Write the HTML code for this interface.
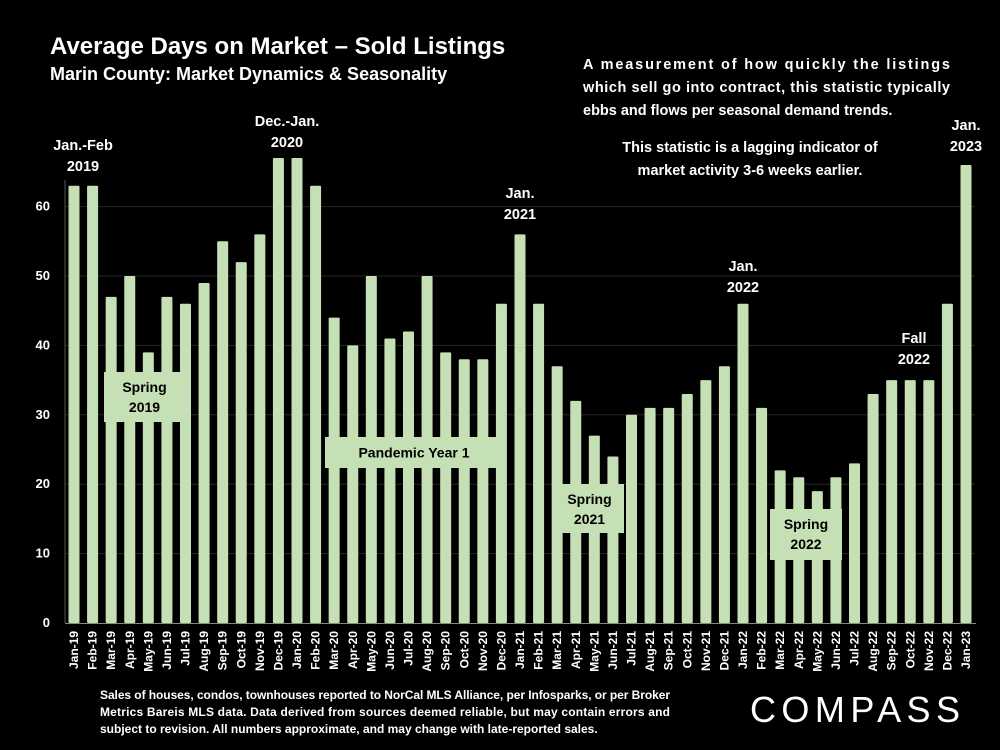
<!DOCTYPE html>
<html><head><meta charset="utf-8">
<style>
body{margin:0;background:#000;width:1000px;height:750px;overflow:hidden;font-family:"Liberation Sans",Arial,sans-serif;}
svg{position:absolute;left:0;top:0}
</style></head>
<body>
<svg id="chart" width="1000" height="750">
<text x="50" y="54" fill="#fff" font-size="24" font-weight="bold">Average Days on Market – Sold Listings</text>
<text x="50" y="80" fill="#fff" font-size="18" font-weight="bold">Marin County: Market Dynamics &amp; Seasonality</text>
<g fill="#fff" font-size="14.5" font-weight="bold">
<text x="583" y="69" textLength="367" lengthAdjust="spacing">A measurement of how quickly the listings</text>
<text x="583" y="92" textLength="367" lengthAdjust="spacing">which sell go into contract, this statistic typically</text>
<text x="583" y="115">ebbs and flows per seasonal demand trends.</text>
<text x="750" y="152" text-anchor="middle">This statistic is a lagging indicator of</text>
<text x="750" y="175" text-anchor="middle">market activity 3-6 weeks earlier.</text>
</g>
<g id="grid"></g><g id="bars"></g><g id="xlabels"></g><g id="ylabels"></g><g id="notes"></g>
<g fill="#fff" font-size="12" font-weight="bold">
<text x="100" y="699" textLength="570" lengthAdjust="spacing">Sales of houses, condos, townhouses reported to NorCal MLS Alliance, per Infosparks, or per Broker</text>
<text x="100" y="716" textLength="570" lengthAdjust="spacing">Metrics Bareis MLS data. Data derived from sources deemed reliable, but may contain errors and</text>
<text x="100" y="733">subject to revision. All numbers approximate, and may change with late-reported sales.</text>
</g>
<text x="750" y="722" fill="#fff" font-size="36" textLength="210" lengthAdjust="spacing">COMPASS</text>
</svg>
<script>
const categories=["Jan-19","Feb-19","Mar-19","Apr-19","May-19","Jun-19","Jul-19","Aug-19","Sep-19","Oct-19","Nov-19","Dec-19","Jan-20","Feb-20","Mar-20","Apr-20","May-20","Jun-20","Jul-20","Aug-20","Sep-20","Oct-20","Nov-20","Dec-20","Jan-21","Feb-21","Mar-21","Apr-21","May-21","Jun-21","Jul-21","Aug-21","Sep-21","Oct-21","Nov-21","Dec-21","Jan-22","Feb-22","Mar-22","Apr-22","May-22","Jun-22","Jul-22","Aug-22","Sep-22","Oct-22","Nov-22","Dec-22","Jan-23"];
const values=[63,63,47,50,39,47,46,49,55,52,56,67,67,63,44,40,50,41,42,50,39,38,38,46,56,46,37,32,27,24,30,31,31,33,35,37,46,31,22,21,19,21,23,33,35,35,35,46,66];
const yTicks=[0,10,20,30,40,50,60];
const NS="http://www.w3.org/2000/svg";
const x0=74, step=(966-74)/48, bw=11;
function xPos(i){return x0+i*step;}
function yPos(v){return 623-v*6.94;}
function mk(tag,attrs,parent){const e=document.createElementNS(NS,tag);for(const k in attrs)e.setAttribute(k,attrs[k]);document.getElementById(parent).appendChild(e);return e;}
yTicks.forEach(t=>{
  if(t>0){const g=mk('line',{x1:65,x2:975,y1:yPos(t),y2:yPos(t),stroke:'#262626','stroke-width':1},'grid');
  
  }
  const l=mk('text',{x:50,y:yPos(t)+4,fill:'#fff','font-size':13,'font-weight':'bold','text-anchor':'end'},'ylabels');
  l.textContent=t;
  
  
});
const ax=mk('line',{x1:65,x2:65,y1:180,y2:623,stroke:'#555'},'grid');


const bx=mk('line',{x1:65,x2:976,y1:623.5,y2:623.5,stroke:'#888'},'grid');


values.forEach((v,i)=>{
  const b=mk('rect',{x:xPos(i)-bw/2,y:yPos(v),width:bw,height:623-yPos(v),fill:'#c5e0b4',rx:1},'bars');
  
  
  const t=mk('text',{transform:`translate(${xPos(i)+4},631) rotate(-90)`,fill:'#fff','font-size':12,'font-weight':'bold','text-anchor':'end'},'xlabels');
  t.textContent=categories[i];
  
  
});
const tops=[["Jan.-Feb","2019",83,150],["Dec.-Jan.","2020",287,126],["Jan.","2021",520,198],["Jan.","2022",743,271],["Fall","2022",914,343],["Jan.","2023",966,130]];
tops.forEach(a=>{
  const t=mk('text',{x:a[2],y:a[3],fill:'#fff','font-size':14.5,'font-weight':'bold','text-anchor':'middle'},'notes');
  t.innerHTML=`<tspan x="${a[2]}">${a[0]}</tspan><tspan x="${a[2]}" dy="21">${a[1]}</tspan>`;
  
  
});
const boxes=[[104,372,81,50,["Spring","2019"]],[325,437,178,31,["Pandemic Year 1"]],[555,484,69,49,["Spring","2021"]],[770,509,72,51,["Spring","2022"]]];
boxes.forEach(b=>{
  const r=mk('rect',{x:b[0],y:b[1],width:b[2],height:b[3],fill:'#c5e0b4'},'notes');
  
  
  const cx=b[0]+b[2]/2;
  const t=mk('text',{x:cx,fill:'#000','font-size':14,'font-weight':'bold','text-anchor':'middle'},'notes');
  if(b[4].length===1){t.setAttribute('y',b[1]+b[3]/2+5);t.textContent=b[4][0];}
  else{t.setAttribute('y',b[1]+20);t.innerHTML=`<tspan x="${cx}">${b[4][0]}</tspan><tspan x="${cx}" dy="20">${b[4][1]}</tspan>`;}
  
  
});
</script>
</body></html>
